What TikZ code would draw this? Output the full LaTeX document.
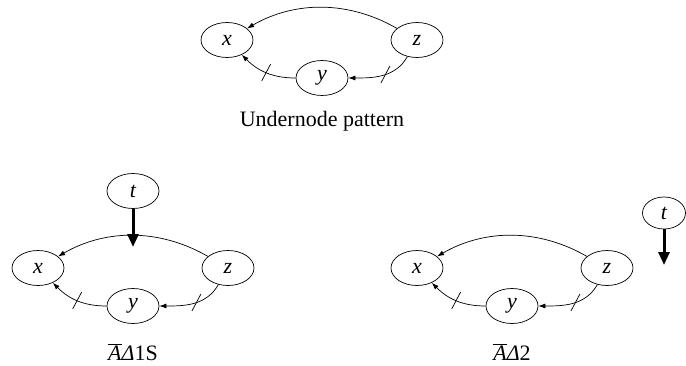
\documentclass[tikz,border=0pt]{standalone}
\usepackage{fontspec}
\setmainfont{Liberation Serif}
\usetikzlibrary{arrows.meta,shapes.geometric}
\begin{document}
\begin{tikzpicture}[x=1pt,y=1pt,
  var/.style={draw, ellipse, line width=0.7pt, minimum width=52pt, minimum height=35pt, inner sep=0pt, font=\fontsize{22}{26}\selectfont\itshape},
  smallvar/.style={var, minimum width=43pt, minimum height=32pt},
  edge/.style={line width=0.7pt, -{Latex[length=7pt,width=5pt]}},
  tickline/.style={line width=0.7pt},
  bigarrow/.style={line width=3pt, -{Triangle[length=13pt,width=11pt]}},
  captext/.style={anchor=base, font=\fontsize{22}{26}\selectfont}
]
\useasboundingbox (0,0) rectangle (686,365);
\newcommand{\undpat}[3]{%
  \node[var] (#1x) at (#2-95,#3) {x};
  \node[var] (#1z) at (#2+95,#3) {z};
  \node[var] (#1y) at (#2,#3-38) {y};
  \draw[edge] (#1z) to[out=150,in=30,looseness=0.95] (#1x);
  \draw[edge] (#1y) to[out=180,in=-45] coordinate[pos=0.5] (#1m1) (#1x);
  \draw[edge] (#1z) to[out=-120,in=0] coordinate[pos=0.45] (#1m2) (#1y);
  \draw[tickline] (#1m1) ++(-4.5,-8.5) -- ++(9,17);
  \draw[tickline] (#1m2) ++(-4.5,-8.5) -- ++(9,17);
}
\undpat{a}{322}{325}
\node[captext] (capa) at (322,238) {Undernode pattern};
\undpat{b}{133}{97}
\node[var] (bt) at (133,174) {t};
\coordinate (bend) at (133,118);
\draw[bigarrow] (bt) -- (bend);
\node[captext] (capb) at (133,5) {$\overline{\mbox{\textit{A}}}$\textit{Δ}1S};
\undpat{c}{512}{97}
\node[smallvar] (ct) at (664,152) {t};
\coordinate (cend) at (664,100);
\draw[bigarrow] (ct) -- (cend);
\node[captext] (capc) at (512,5) {$\overline{\mbox{\textit{A}}}$\textit{Δ}2};
\end{tikzpicture}
\end{document}
